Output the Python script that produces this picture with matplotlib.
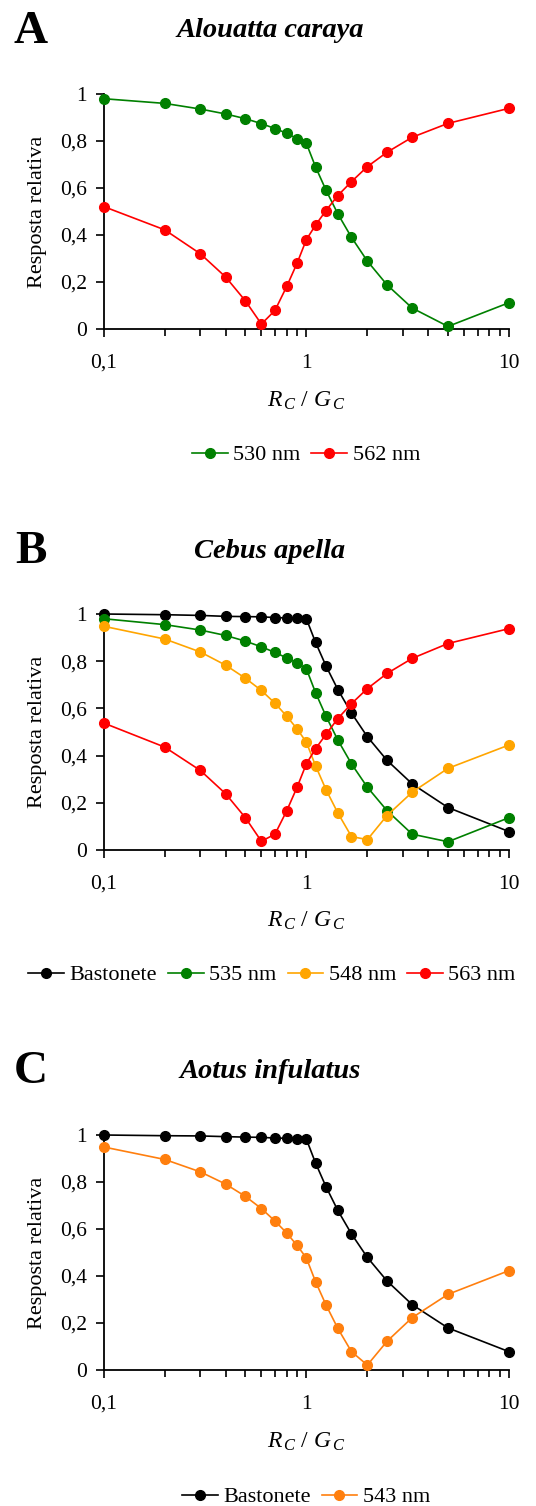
import matplotlib
matplotlib.use('Agg')
import matplotlib.pyplot as plt
from matplotlib.ticker import FixedLocator, FixedFormatter, LogLocator, NullFormatter

plt.rcParams['font.family'] = 'Liberation Serif'
plt.rcParams['mathtext.fontset'] = 'custom'
plt.rcParams['mathtext.rm'] = 'Liberation Serif'
plt.rcParams['mathtext.it'] = 'Liberation Serif:italic'

# razão R_C / G_C
razao = [0.1, 0.2, 0.3, 0.4, 0.5, 0.6, 0.7, 0.8, 0.9, 1.0,
         1.11, 1.25, 1.43, 1.67, 2.0, 2.5, 3.33, 5.0, 10.0]

# A - Alouatta caraya
a_530 = [0.98, 0.96, 0.936, 0.915, 0.895, 0.874, 0.853, 0.833, 0.81, 0.79,
         0.69, 0.591, 0.49, 0.39, 0.289, 0.188, 0.089, 0.011, 0.112]
a_562 = [0.521, 0.422, 0.32, 0.221, 0.12, 0.021, 0.079, 0.181, 0.28, 0.38,
         0.442, 0.504, 0.568, 0.627, 0.691, 0.752, 0.816, 0.875, 0.939]

# B - Cebus apella
b_bast = [1.0, 0.997, 0.994, 0.99, 0.989, 0.988, 0.985, 0.983, 0.982, 0.98,
          0.88, 0.78, 0.68, 0.58, 0.48, 0.38, 0.28, 0.18, 0.078]
b_535 = [0.98, 0.955, 0.932, 0.909, 0.885, 0.861, 0.837, 0.814, 0.792, 0.768,
         0.667, 0.567, 0.466, 0.365, 0.266, 0.167, 0.067, 0.035, 0.137]
b_548 = [0.948, 0.894, 0.839, 0.783, 0.728, 0.676, 0.622, 0.567, 0.513, 0.457,
         0.357, 0.256, 0.157, 0.057, 0.044, 0.146, 0.245, 0.346, 0.445]
b_563 = [0.538, 0.436, 0.337, 0.238, 0.137, 0.037, 0.067, 0.166, 0.266, 0.365,
         0.429, 0.49, 0.557, 0.62, 0.684, 0.748, 0.812, 0.875, 0.938]

# C - Aotus infulatus
c_bast = [1.0, 0.997, 0.996, 0.993, 0.991, 0.99, 0.987, 0.986, 0.983, 0.982,
          0.881, 0.78, 0.679, 0.579, 0.479, 0.379, 0.278, 0.179, 0.078]
c_543 = [0.949, 0.896, 0.843, 0.791, 0.739, 0.687, 0.634, 0.583, 0.53, 0.477,
         0.376, 0.277, 0.177, 0.078, 0.021, 0.122, 0.223, 0.322, 0.423]

y_ticks = [0, 0.2, 0.4, 0.6, 0.8, 1]
y_labels = ['0', '0,2', '0,4', '0,6', '0,8', '1']
x_ticks = [0.1, 1, 10]
x_labels = ['0,1', '1', '10']

paineis = [
    ('A', 'Alouatta caraya', [(a_530, '530 nm', '#008000'), (a_562, '562 nm', '#ff0000')]),
    ('B', 'Cebus apella', [(b_bast, 'Bastonete', '#000000'), (b_535, '535 nm', '#008000'),
                           (b_548, '548 nm', '#ffa500'), (b_563, '563 nm', '#ff0000')]),
    ('C', 'Aotus infulatus', [(c_bast, 'Bastonete', '#000000'), (c_543, '543 nm', '#ff7f0e')]),
]

W, H = 536, 1506
fig = plt.figure(figsize=(W / 100, H / 100), dpi=100)

# posições em pixels (topo do eixo, base do eixo, linhas de texto)
ax_top = [94, 614, 1135]
ax_bot = [329, 850, 1370]
letra_y = [43, 563, 1083]
titulo_y = [37, 558, 1078]
xlab_y = [407, 927, 1448]
leg_y = [455, 975, 1497]
leg_x = [306, 272, 306]
x0, x1 = 103.7, 509

for i, (letra, titulo, series) in enumerate(paineis):
    ax = fig.add_axes([x0 / W, 1 - ax_bot[i] / H, (x1 - x0) / W, (ax_bot[i] - ax_top[i]) / H])
    for valores, nome, cor in series:
        ax.plot(razao, valores, color=cor, lw=1.2, marker='o', ms=7,
                label=nome, clip_on=False, zorder=3)
    ax.set_xscale('log')
    ax.set_xlim(0.1, 10)
    ax.set_ylim(0, 1)
    ax.xaxis.set_major_locator(FixedLocator(x_ticks))
    ax.xaxis.set_major_formatter(FixedFormatter(x_labels))
    ax.xaxis.set_minor_locator(LogLocator(base=10, subs=range(2, 10)))
    ax.xaxis.set_minor_formatter(NullFormatter())
    ax.set_yticks(y_ticks)
    ax.set_yticklabels(y_labels)
    for s in ['top', 'right']:
        ax.spines[s].set_visible(False)
    for s in ['left', 'bottom']:
        ax.spines[s].set_linewidth(1.3)
    ax.tick_params(axis='x', which='major', length=6, width=1.2, pad=12, labelsize=15.5)
    ax.tick_params(axis='x', which='minor', length=5, width=1.2)
    ax.tick_params(axis='y', length=6, width=1.2, pad=6, labelsize=15.5)

    fig.text(31 / W, 1 - letra_y[i] / H, letra, fontsize=34, fontweight='bold',
             ha='center', va='baseline')
    fig.text(270 / W, 1 - titulo_y[i] / H, titulo, fontsize=20.5, fontweight='bold',
             fontstyle='italic', ha='center', va='baseline')
    fig.text(306 / W, 1 - xlab_y[i] / H, r'$R_{\,C}\ /\ G_{\,C}$', fontsize=17,
             ha='center', va='baseline')
    fig.text(38 / W, 1 - (ax_top[i] + ax_bot[i]) / 2 / H, 'Resposta relativa',
             fontsize=16, rotation=90, ha='center', va='center')
    fig.legend(*ax.get_legend_handles_labels(), loc='center',
               bbox_to_anchor=(leg_x[i] / W, 1 - leg_y[i] / H), ncol=len(series),
               frameon=False, fontsize=16, handlelength=1.6, handletextpad=0.25,
               columnspacing=0.5, borderaxespad=0, borderpad=0)

fig.savefig('out.png', dpi=100)
